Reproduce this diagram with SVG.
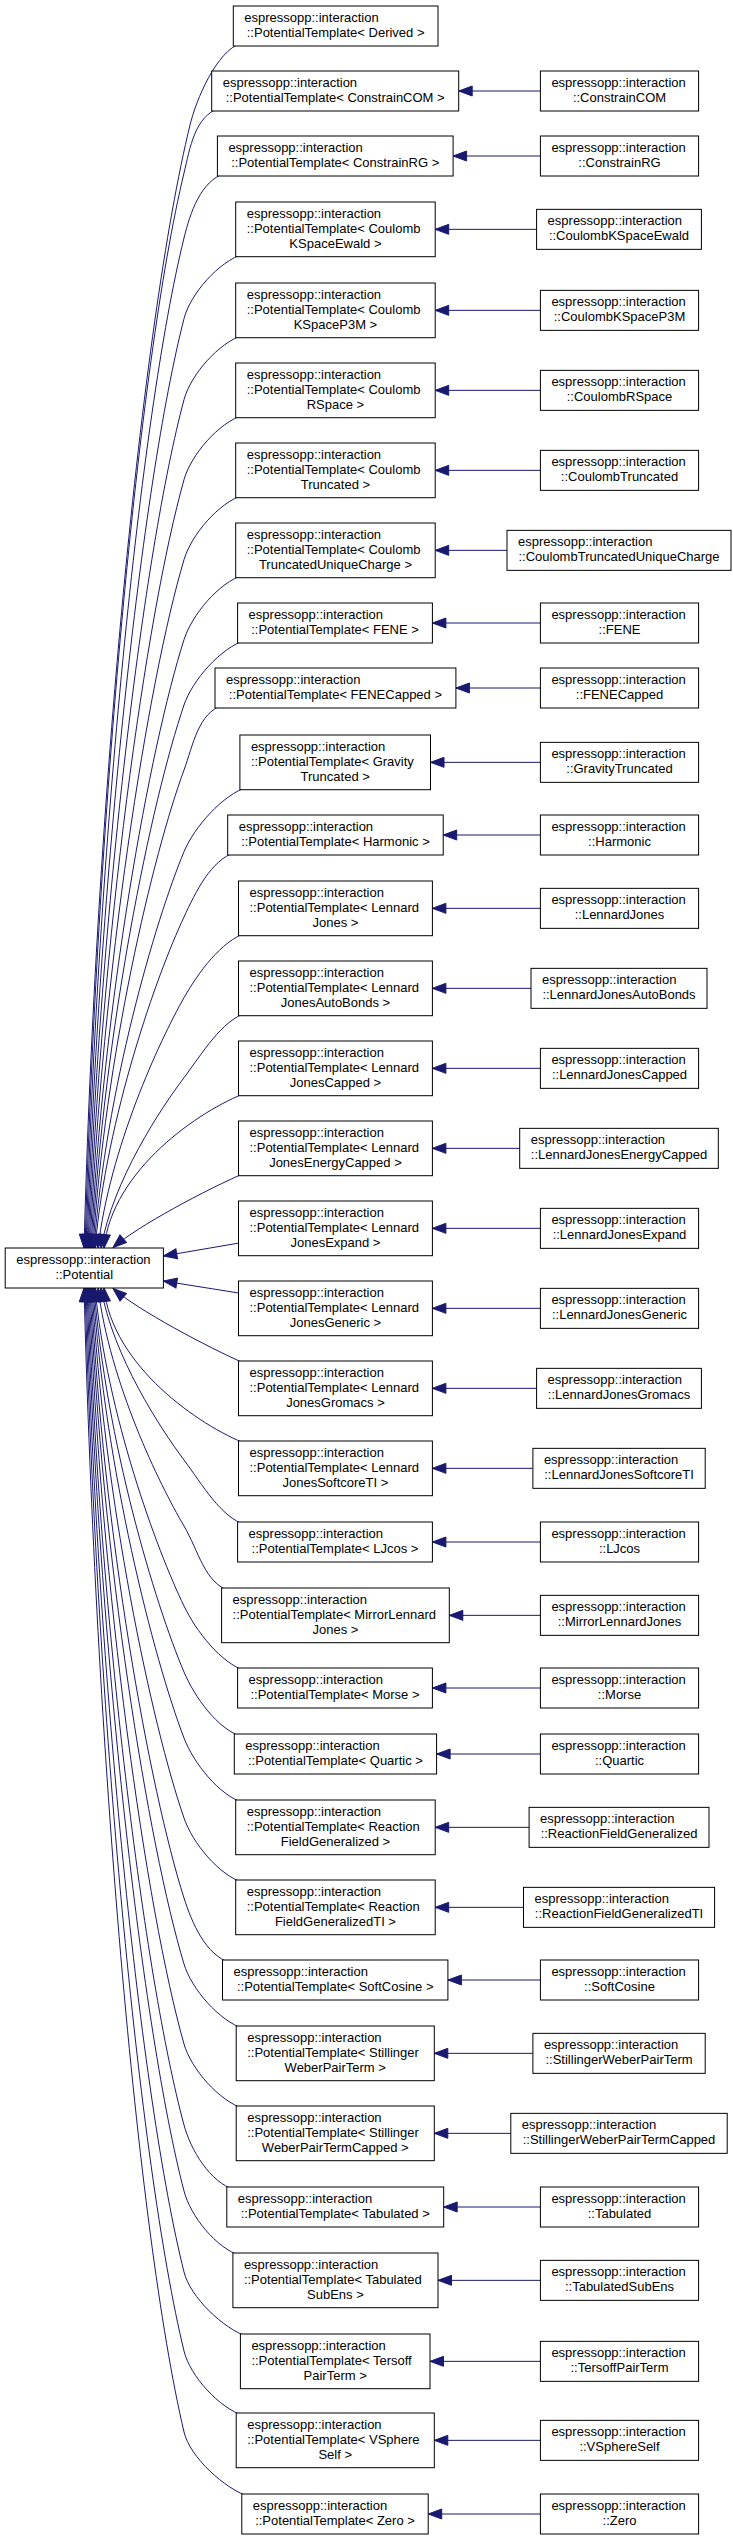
<svg xmlns="http://www.w3.org/2000/svg" width="733" height="2540" viewBox="0 0 733 2540">
<style>
.n rect{fill:#fff;stroke:#000;stroke-width:1}
.n text{font-family:"Liberation Sans",Arial,Helvetica,sans-serif;font-size:13px;fill:#000}
.n text.m{text-anchor:middle}
.e path{fill:none;stroke:#191970;stroke-width:1;marker-end:url(#a)}
</style>
<defs>
<marker id="a" markerUnits="userSpaceOnUse" markerWidth="14" markerHeight="11" refX="13.5" refY="5" orient="auto" overflow="visible"><path d="M0,0L13.5,5L0,10z" fill="#191970" stroke="#191970" stroke-width="1"/></marker>
</defs>
<g id="edges" class="e">
<path d="M540.4,91L458.7,91"/>
<path d="M540.4,156L453.1,156"/>
<path d="M536.6,229.35L435.2,229.35"/>
<path d="M540.4,310.35L435.2,310.35"/>
<path d="M540.4,390.35L435.2,390.35"/>
<path d="M540.4,470.35L435.2,470.35"/>
<path d="M507,550.35L435.2,550.35"/>
<path d="M540.4,623L432.4,623"/>
<path d="M540.4,688L455.9,688"/>
<path d="M540.4,762.35L430.5,762.35"/>
<path d="M540.4,835L443.2,835"/>
<path d="M540.4,908.35L432.4,908.35"/>
<path d="M531,988.35L432.4,988.35"/>
<path d="M540.4,1068.35L432.4,1068.35"/>
<path d="M519.7,1148.35L432.4,1148.35"/>
<path d="M540.4,1228.35L432.4,1228.35"/>
<path d="M540.4,1308.35L432.4,1308.35"/>
<path d="M536.6,1388.35L432.4,1388.35"/>
<path d="M532.9,1468.35L432.4,1468.35"/>
<path d="M540.4,1542L432.4,1542"/>
<path d="M540.4,1615.35L449.3,1615.35"/>
<path d="M540.4,1688L432.4,1688"/>
<path d="M540.4,1754L436.6,1754"/>
<path d="M529.1,1827.35L435.2,1827.35"/>
<path d="M523.5,1907.35L435.2,1907.35"/>
<path d="M540.4,1980L447.9,1980"/>
<path d="M532.9,2053.35L434.3,2053.35"/>
<path d="M510.8,2133.35L434.3,2133.35"/>
<path d="M540.4,2207L443.7,2207"/>
<path d="M540.4,2280.35L438,2280.35"/>
<path d="M540.4,2361.35L430,2361.35"/>
<path d="M540.4,2440.35L434.3,2440.35"/>
<path d="M540.4,2514L428.2,2514"/>
<path d="M241.3,43C216.3,51 196.1,100 190,125C141.7,323.8 96,798.8 84,1248"/>
<path d="M219.7,108C194.7,116 190,148 184,173C138.4,363.3 97,818 85,1248"/>
<path d="M225.4,173C200.4,181 190.2,213 184,238C140,416.8 98,844 86,1248"/>
<path d="M243.7,253.7C218.7,261.7 190.4,293.7 184,318.7C141.9,483.2 99,876.3 87,1248"/>
<path d="M243.7,334.7C218.7,342.7 190.7,374.7 184,399.7C143.9,549.8 100,908.7 88,1248"/>
<path d="M243.7,414.7C218.7,422.7 191,454.7 184,479.7C145.8,615.7 101,940.7 89,1248"/>
<path d="M243.7,494.7C218.7,502.7 191.4,534.7 184,559.7C147.8,681.5 102,972.7 90,1248"/>
<path d="M243.7,574.7C218.7,582.7 192,614.7 184,639.7C149.7,747.4 103,1004.7 91,1248"/>
<path d="M245.6,640C220.6,648 192.5,680 184,705C151.3,801.1 104,1030.8 92,1248"/>
<path d="M223,705C198,713 193.2,745 184,770C152.9,854.6 105,1056.8 93,1248"/>
<path d="M247.9,786.7C222.9,794.7 194.4,826.7 184,851.7C154.9,921.8 106,1089.5 94,1248"/>
<path d="M235.7,852C210.7,860 195.7,892 184,917C156.5,975.6 107,1115.6 95,1248"/>
<path d="M246.5,932.7C221.5,940.7 198.2,972.7 184,997.7C158.9,1042 110,1147.9 98,1248"/>
<path d="M246.5,1012.7C221.5,1020.7 202.8,1052.7 184,1077.7C161.3,1107.8 113,1179.9 101,1248"/>
<path d="M246.5,1092.7C200,1110 112,1170 104,1248"/>
<path d="M247,1172C205,1190 138,1226 113,1247.5"/>
<path d="M245,1242L163.4,1256"/>
<path d="M245,1294L163.4,1281"/>
<path d="M247,1364.5C205,1346 138,1310 113,1288.5"/>
<path d="M246.5,1444C200,1426 112,1366 104,1288"/>
<path d="M245.6,1525C220.6,1517 202.7,1485 184,1460C161.3,1429.6 113,1356.8 101,1288"/>
<path d="M229.6,1591C204.6,1583 198.7,1551 184,1526C159.2,1483.9 110,1383.2 98,1288"/>
<path d="M245.6,1671C220.6,1663 196.1,1631 184,1606C156.8,1549.7 107,1415.2 95,1288"/>
<path d="M242.3,1737C217.3,1729 194.6,1697 184,1672C155.1,1604 106,1441.6 94,1288"/>
<path d="M243.7,1803C218.7,1795 193.6,1763 184,1738C153.5,1658.3 105,1468 93,1288"/>
<path d="M243.7,1883C218.7,1875 192.6,1843 184,1818C151.6,1724.2 104,1500 92,1288"/>
<path d="M230.5,1963C205.5,1955 192,1923 184,1898C149.6,1790 103,1532 91,1288"/>
<path d="M244.2,2029C219.2,2021 191.5,1989 184,1964C148,1844.3 102,1558.4 90,1288"/>
<path d="M244.2,2109C219.2,2101 191.1,2069 184,2044C146.1,1910.2 101,1590.4 89,1288"/>
<path d="M234.8,2190C209.8,2182 190.7,2150 184,2125C144.1,1976.9 100,1622.8 88,1288"/>
<path d="M240.9,2256C215.9,2248 190.5,2216 184,2191C142.5,2031.2 99,1649.2 87,1288"/>
<path d="M248.4,2337C223.4,2329 190.2,2297 184,2272C140.5,2097.8 98,1681.6 86,1288"/>
<path d="M244.2,2416C219.2,2408 190,2376 184,2351C138.6,2162.8 97,1713.2 85,1288"/>
<path d="M249.8,2497C224.8,2489 189.8,2457 184,2432C136.7,2229.5 96,1745.6 84,1288"/>
</g>
<g id="potential" class="n"><rect x="5.2" y="1248" width="158.2" height="40"/><text x="16.2" y="1263.5">espressopp::interaction</text><text class="m" x="84.3" y="1278.5">::Potential</text></g>
<g id="t1" class="n"><rect x="233.3" y="6" width="204.7" height="40"/><text x="244.3" y="21.5">espressopp::interaction</text><text class="m" x="335.65" y="36.5">::PotentialTemplate&lt; Derived &gt;</text></g>
<g id="t2" class="n"><rect x="211.7" y="71" width="247" height="40"/><text x="222.7" y="86.5">espressopp::interaction</text><text class="m" x="335.2" y="101.5">::PotentialTemplate&lt; ConstrainCOM &gt;</text></g>
<g id="t3" class="n"><rect x="217.4" y="136" width="235.7" height="40"/><text x="228.4" y="151.5">espressopp::interaction</text><text class="m" x="335.25" y="166.5">::PotentialTemplate&lt; ConstrainRG &gt;</text></g>
<g id="t4" class="n"><rect x="235.7" y="202" width="199.5" height="54.7"/><text x="246.7" y="217.5">espressopp::interaction</text><text x="246.7" y="232.5">::PotentialTemplate&lt; Coulomb</text><text class="m" x="335.45" y="247.5">KSpaceEwald &gt;</text></g>
<g id="t5" class="n"><rect x="235.7" y="283" width="199.5" height="54.7"/><text x="246.7" y="298.5">espressopp::interaction</text><text x="246.7" y="313.5">::PotentialTemplate&lt; Coulomb</text><text class="m" x="335.45" y="328.5">KSpaceP3M &gt;</text></g>
<g id="t6" class="n"><rect x="235.7" y="363" width="199.5" height="54.7"/><text x="246.7" y="378.5">espressopp::interaction</text><text x="246.7" y="393.5">::PotentialTemplate&lt; Coulomb</text><text class="m" x="335.45" y="408.5">RSpace &gt;</text></g>
<g id="t7" class="n"><rect x="235.7" y="443" width="199.5" height="54.7"/><text x="246.7" y="458.5">espressopp::interaction</text><text x="246.7" y="473.5">::PotentialTemplate&lt; Coulomb</text><text class="m" x="335.45" y="488.5">Truncated &gt;</text></g>
<g id="t8" class="n"><rect x="235.7" y="523" width="199.5" height="54.7"/><text x="246.7" y="538.5">espressopp::interaction</text><text x="246.7" y="553.5">::PotentialTemplate&lt; Coulomb</text><text class="m" x="335.45" y="568.5">TruncatedUniqueCharge &gt;</text></g>
<g id="t9" class="n"><rect x="237.6" y="603" width="194.8" height="40"/><text x="248.6" y="618.5">espressopp::interaction</text><text class="m" x="335" y="633.5">::PotentialTemplate&lt; FENE &gt;</text></g>
<g id="t10" class="n"><rect x="215" y="668" width="240.9" height="40"/><text x="226" y="683.5">espressopp::interaction</text><text class="m" x="335.45" y="698.5">::PotentialTemplate&lt; FENECapped &gt;</text></g>
<g id="t11" class="n"><rect x="239.9" y="735" width="190.6" height="54.7"/><text x="250.9" y="750.5">espressopp::interaction</text><text x="250.9" y="765.5">::PotentialTemplate&lt; Gravity</text><text class="m" x="335.2" y="780.5">Truncated &gt;</text></g>
<g id="t12" class="n"><rect x="227.7" y="815" width="215.5" height="40"/><text x="238.7" y="830.5">espressopp::interaction</text><text class="m" x="335.45" y="845.5">::PotentialTemplate&lt; Harmonic &gt;</text></g>
<g id="t13" class="n"><rect x="238.5" y="881" width="193.9" height="54.7"/><text x="249.5" y="896.5">espressopp::interaction</text><text x="249.5" y="911.5">::PotentialTemplate&lt; Lennard</text><text class="m" x="335.45" y="926.5">Jones &gt;</text></g>
<g id="t14" class="n"><rect x="238.5" y="961" width="193.9" height="54.7"/><text x="249.5" y="976.5">espressopp::interaction</text><text x="249.5" y="991.5">::PotentialTemplate&lt; Lennard</text><text class="m" x="335.45" y="1006.5">JonesAutoBonds &gt;</text></g>
<g id="t15" class="n"><rect x="238.5" y="1041" width="193.9" height="54.7"/><text x="249.5" y="1056.5">espressopp::interaction</text><text x="249.5" y="1071.5">::PotentialTemplate&lt; Lennard</text><text class="m" x="335.45" y="1086.5">JonesCapped &gt;</text></g>
<g id="t16" class="n"><rect x="238.5" y="1121" width="193.9" height="54.7"/><text x="249.5" y="1136.5">espressopp::interaction</text><text x="249.5" y="1151.5">::PotentialTemplate&lt; Lennard</text><text class="m" x="335.45" y="1166.5">JonesEnergyCapped &gt;</text></g>
<g id="t17" class="n"><rect x="238.5" y="1201" width="193.9" height="54.7"/><text x="249.5" y="1216.5">espressopp::interaction</text><text x="249.5" y="1231.5">::PotentialTemplate&lt; Lennard</text><text class="m" x="335.45" y="1246.5">JonesExpand &gt;</text></g>
<g id="t18" class="n"><rect x="238.5" y="1281" width="193.9" height="54.7"/><text x="249.5" y="1296.5">espressopp::interaction</text><text x="249.5" y="1311.5">::PotentialTemplate&lt; Lennard</text><text class="m" x="335.45" y="1326.5">JonesGeneric &gt;</text></g>
<g id="t19" class="n"><rect x="238.5" y="1361" width="193.9" height="54.7"/><text x="249.5" y="1376.5">espressopp::interaction</text><text x="249.5" y="1391.5">::PotentialTemplate&lt; Lennard</text><text class="m" x="335.45" y="1406.5">JonesGromacs &gt;</text></g>
<g id="t20" class="n"><rect x="238.5" y="1441" width="193.9" height="54.7"/><text x="249.5" y="1456.5">espressopp::interaction</text><text x="249.5" y="1471.5">::PotentialTemplate&lt; Lennard</text><text class="m" x="335.45" y="1486.5">JonesSoftcoreTI &gt;</text></g>
<g id="t21" class="n"><rect x="237.6" y="1522" width="194.8" height="40"/><text x="248.6" y="1537.5">espressopp::interaction</text><text class="m" x="335" y="1552.5">::PotentialTemplate&lt; LJcos &gt;</text></g>
<g id="t22" class="n"><rect x="221.6" y="1588" width="227.7" height="54.7"/><text x="232.6" y="1603.5">espressopp::interaction</text><text x="232.6" y="1618.5">::PotentialTemplate&lt; MirrorLennard</text><text class="m" x="335.45" y="1633.5">Jones &gt;</text></g>
<g id="t23" class="n"><rect x="237.6" y="1668" width="194.8" height="40"/><text x="248.6" y="1683.5">espressopp::interaction</text><text class="m" x="335" y="1698.5">::PotentialTemplate&lt; Morse &gt;</text></g>
<g id="t24" class="n"><rect x="234.3" y="1734" width="202.3" height="40"/><text x="245.3" y="1749.5">espressopp::interaction</text><text class="m" x="335.45" y="1764.5">::PotentialTemplate&lt; Quartic &gt;</text></g>
<g id="t25" class="n"><rect x="235.7" y="1800" width="199.5" height="54.7"/><text x="246.7" y="1815.5">espressopp::interaction</text><text x="246.7" y="1830.5">::PotentialTemplate&lt; Reaction</text><text class="m" x="335.45" y="1845.5">FieldGeneralized &gt;</text></g>
<g id="t26" class="n"><rect x="235.7" y="1880" width="199.5" height="54.7"/><text x="246.7" y="1895.5">espressopp::interaction</text><text x="246.7" y="1910.5">::PotentialTemplate&lt; Reaction</text><text class="m" x="335.45" y="1925.5">FieldGeneralizedTI &gt;</text></g>
<g id="t27" class="n"><rect x="222.5" y="1960" width="225.4" height="40"/><text x="233.5" y="1975.5">espressopp::interaction</text><text class="m" x="335.2" y="1990.5">::PotentialTemplate&lt; SoftCosine &gt;</text></g>
<g id="t28" class="n"><rect x="236.2" y="2026" width="198.1" height="54.7"/><text x="247.2" y="2041.5">espressopp::interaction</text><text x="247.2" y="2056.5">::PotentialTemplate&lt; Stillinger</text><text class="m" x="335.25" y="2071.5">WeberPairTerm &gt;</text></g>
<g id="t29" class="n"><rect x="236.2" y="2106" width="198.1" height="54.7"/><text x="247.2" y="2121.5">espressopp::interaction</text><text x="247.2" y="2136.5">::PotentialTemplate&lt; Stillinger</text><text class="m" x="335.25" y="2151.5">WeberPairTermCapped &gt;</text></g>
<g id="t30" class="n"><rect x="226.8" y="2187" width="216.9" height="40"/><text x="237.8" y="2202.5">espressopp::interaction</text><text class="m" x="335.25" y="2217.5">::PotentialTemplate&lt; Tabulated &gt;</text></g>
<g id="t31" class="n"><rect x="232.9" y="2253" width="205.1" height="54.7"/><text x="243.9" y="2268.5">espressopp::interaction</text><text x="243.9" y="2283.5">::PotentialTemplate&lt; Tabulated</text><text class="m" x="335.45" y="2298.5">SubEns &gt;</text></g>
<g id="t32" class="n"><rect x="240.4" y="2334" width="189.6" height="54.7"/><text x="251.4" y="2349.5">espressopp::interaction</text><text x="251.4" y="2364.5">::PotentialTemplate&lt; Tersoff</text><text class="m" x="335.2" y="2379.5">PairTerm &gt;</text></g>
<g id="t33" class="n"><rect x="236.2" y="2413" width="198.1" height="54.7"/><text x="247.2" y="2428.5">espressopp::interaction</text><text x="247.2" y="2443.5">::PotentialTemplate&lt; VSphere</text><text class="m" x="335.25" y="2458.5">Self &gt;</text></g>
<g id="t34" class="n"><rect x="241.8" y="2494" width="186.4" height="40"/><text x="252.8" y="2509.5">espressopp::interaction</text><text class="m" x="335" y="2524.5">::PotentialTemplate&lt; Zero &gt;</text></g>
<g id="r2" class="n"><rect x="540.4" y="71" width="158.2" height="40"/><text x="551.4" y="86.5">espressopp::interaction</text><text class="m" x="619.5" y="101.5">::ConstrainCOM</text></g>
<g id="r3" class="n"><rect x="540.4" y="136" width="158.2" height="40"/><text x="551.4" y="151.5">espressopp::interaction</text><text class="m" x="619.5" y="166.5">::ConstrainRG</text></g>
<g id="r4" class="n"><rect x="536.6" y="209.35" width="164.8" height="40"/><text x="547.6" y="224.85">espressopp::interaction</text><text class="m" x="619" y="239.85">::CoulombKSpaceEwald</text></g>
<g id="r5" class="n"><rect x="540.4" y="290.35" width="158.2" height="40"/><text x="551.4" y="305.85">espressopp::interaction</text><text class="m" x="619.5" y="320.85">::CoulombKSpaceP3M</text></g>
<g id="r6" class="n"><rect x="540.4" y="370.35" width="158.2" height="40"/><text x="551.4" y="385.85">espressopp::interaction</text><text class="m" x="619.5" y="400.85">::CoulombRSpace</text></g>
<g id="r7" class="n"><rect x="540.4" y="450.35" width="158.2" height="40"/><text x="551.4" y="465.85">espressopp::interaction</text><text class="m" x="619.5" y="480.85">::CoulombTruncated</text></g>
<g id="r8" class="n"><rect x="507" y="530.35" width="224" height="40"/><text x="518" y="545.85">espressopp::interaction</text><text class="m" x="619" y="560.85">::CoulombTruncatedUniqueCharge</text></g>
<g id="r9" class="n"><rect x="540.4" y="603" width="158.2" height="40"/><text x="551.4" y="618.5">espressopp::interaction</text><text class="m" x="619.5" y="633.5">::FENE</text></g>
<g id="r10" class="n"><rect x="540.4" y="668" width="158.2" height="40"/><text x="551.4" y="683.5">espressopp::interaction</text><text class="m" x="619.5" y="698.5">::FENECapped</text></g>
<g id="r11" class="n"><rect x="540.4" y="742.35" width="158.2" height="40"/><text x="551.4" y="757.85">espressopp::interaction</text><text class="m" x="619.5" y="772.85">::GravityTruncated</text></g>
<g id="r12" class="n"><rect x="540.4" y="815" width="158.2" height="40"/><text x="551.4" y="830.5">espressopp::interaction</text><text class="m" x="619.5" y="845.5">::Harmonic</text></g>
<g id="r13" class="n"><rect x="540.4" y="888.35" width="158.2" height="40"/><text x="551.4" y="903.85">espressopp::interaction</text><text class="m" x="619.5" y="918.85">::LennardJones</text></g>
<g id="r14" class="n"><rect x="531" y="968.35" width="176" height="40"/><text x="542" y="983.85">espressopp::interaction</text><text class="m" x="619" y="998.85">::LennardJonesAutoBonds</text></g>
<g id="r15" class="n"><rect x="540.4" y="1048.35" width="158.2" height="40"/><text x="551.4" y="1063.85">espressopp::interaction</text><text class="m" x="619.5" y="1078.85">::LennardJonesCapped</text></g>
<g id="r16" class="n"><rect x="519.7" y="1128.35" width="198.6" height="40"/><text x="530.7" y="1143.85">espressopp::interaction</text><text class="m" x="619" y="1158.85">::LennardJonesEnergyCapped</text></g>
<g id="r17" class="n"><rect x="540.4" y="1208.35" width="158.2" height="40"/><text x="551.4" y="1223.85">espressopp::interaction</text><text class="m" x="619.5" y="1238.85">::LennardJonesExpand</text></g>
<g id="r18" class="n"><rect x="540.4" y="1288.35" width="158.2" height="40"/><text x="551.4" y="1303.85">espressopp::interaction</text><text class="m" x="619.5" y="1318.85">::LennardJonesGeneric</text></g>
<g id="r19" class="n"><rect x="536.6" y="1368.35" width="164.8" height="40"/><text x="547.6" y="1383.85">espressopp::interaction</text><text class="m" x="619" y="1398.85">::LennardJonesGromacs</text></g>
<g id="r20" class="n"><rect x="532.9" y="1448.35" width="172.3" height="40"/><text x="543.9" y="1463.85">espressopp::interaction</text><text class="m" x="619.05" y="1478.85">::LennardJonesSoftcoreTI</text></g>
<g id="r21" class="n"><rect x="540.4" y="1522" width="158.2" height="40"/><text x="551.4" y="1537.5">espressopp::interaction</text><text class="m" x="619.5" y="1552.5">::LJcos</text></g>
<g id="r22" class="n"><rect x="540.4" y="1595.35" width="158.2" height="40"/><text x="551.4" y="1610.85">espressopp::interaction</text><text class="m" x="619.5" y="1625.85">::MirrorLennardJones</text></g>
<g id="r23" class="n"><rect x="540.4" y="1668" width="158.2" height="40"/><text x="551.4" y="1683.5">espressopp::interaction</text><text class="m" x="619.5" y="1698.5">::Morse</text></g>
<g id="r24" class="n"><rect x="540.4" y="1734" width="158.2" height="40"/><text x="551.4" y="1749.5">espressopp::interaction</text><text class="m" x="619.5" y="1764.5">::Quartic</text></g>
<g id="r25" class="n"><rect x="529.1" y="1807.35" width="179.9" height="40"/><text x="540.1" y="1822.85">espressopp::interaction</text><text class="m" x="619.05" y="1837.85">::ReactionFieldGeneralized</text></g>
<g id="r26" class="n"><rect x="523.5" y="1887.35" width="191.1" height="40"/><text x="534.5" y="1902.85">espressopp::interaction</text><text class="m" x="619.05" y="1917.85">::ReactionFieldGeneralizedTI</text></g>
<g id="r27" class="n"><rect x="540.4" y="1960" width="158.2" height="40"/><text x="551.4" y="1975.5">espressopp::interaction</text><text class="m" x="619.5" y="1990.5">::SoftCosine</text></g>
<g id="r28" class="n"><rect x="532.9" y="2033.35" width="172.3" height="40"/><text x="543.9" y="2048.85">espressopp::interaction</text><text class="m" x="619.05" y="2063.85">::StillingerWeberPairTerm</text></g>
<g id="r29" class="n"><rect x="510.8" y="2113.35" width="216.4" height="40"/><text x="521.8" y="2128.85">espressopp::interaction</text><text class="m" x="619" y="2143.85">::StillingerWeberPairTermCapped</text></g>
<g id="r30" class="n"><rect x="540.4" y="2187" width="158.2" height="40"/><text x="551.4" y="2202.5">espressopp::interaction</text><text class="m" x="619.5" y="2217.5">::Tabulated</text></g>
<g id="r31" class="n"><rect x="540.4" y="2260.35" width="158.2" height="40"/><text x="551.4" y="2275.85">espressopp::interaction</text><text class="m" x="619.5" y="2290.85">::TabulatedSubEns</text></g>
<g id="r32" class="n"><rect x="540.4" y="2341.35" width="158.2" height="40"/><text x="551.4" y="2356.85">espressopp::interaction</text><text class="m" x="619.5" y="2371.85">::TersoffPairTerm</text></g>
<g id="r33" class="n"><rect x="540.4" y="2420.35" width="158.2" height="40"/><text x="551.4" y="2435.85">espressopp::interaction</text><text class="m" x="619.5" y="2450.85">::VSphereSelf</text></g>
<g id="r34" class="n"><rect x="540.4" y="2494" width="158.2" height="40"/><text x="551.4" y="2509.5">espressopp::interaction</text><text class="m" x="619.5" y="2524.5">::Zero</text></g>
</svg>
